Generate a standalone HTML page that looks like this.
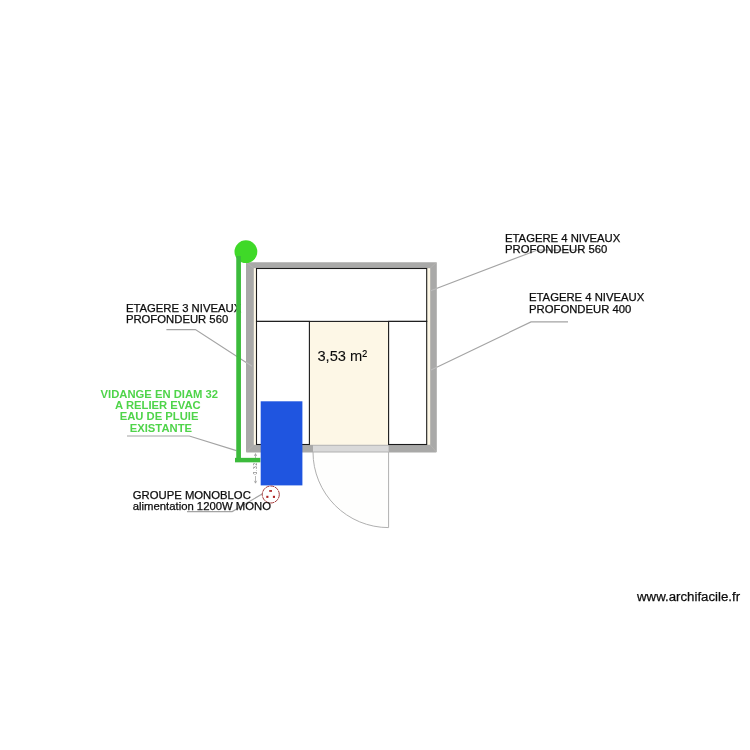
<!DOCTYPE html>
<html lang="fr">
<head>
<meta charset="utf-8">
<title>Plan chambre froide</title>
<style>
html,body{margin:0;padding:0;background:#fff;}
body{width:750px;height:750px;overflow:hidden;}
svg{display:block;will-change:transform;font-family:"Liberation Sans",Arial,sans-serif;}
.lbl{font-size:11.3px;fill:#0c0c0c;stroke:#0c0c0c;stroke-width:0.25px;}
.grn{font-size:11.25px;font-weight:bold;fill:#4fd44a;text-anchor:middle;}
.lead{fill:none;stroke:#a4a4a4;stroke-width:1.15;}
.miter{stroke:#bab8b5;stroke-width:0.6;fill:none;}
</style>
</head>
<body>
<svg width="750" height="750" viewBox="0 0 750 750">
<rect width="750" height="750" fill="#fff"/>

<!-- room -->
<rect x="246" y="262.2" width="190.8" height="190.2" rx="0.8" fill="#a9a9a8"/>
<rect x="253.8" y="268.2" width="176.4" height="176.6" fill="#fdf7e6"/>
<line class="miter" x1="246.3" y1="262.5" x2="253.8" y2="268.2"/>
<line class="miter" x1="436.5" y1="262.5" x2="430.2" y2="268.2"/>
<line class="miter" x1="246.3" y1="452.1" x2="253.8" y2="444.8"/>
<line class="miter" x1="436.5" y1="452.1" x2="430.2" y2="444.8"/>
<!-- shelves -->
<rect x="256.5" y="268.5" width="170.2" height="52.9" fill="#fff" stroke="#1a1a1a" stroke-width="1.1"/>
<rect x="256.5" y="321.4" width="52.9" height="123.1" fill="#fff" stroke="#1a1a1a" stroke-width="1.1"/>
<rect x="388.6" y="321.4" width="38.1" height="123.1" fill="#fff" stroke="#1a1a1a" stroke-width="1.1"/>

<!-- door -->
<rect x="313" y="445.6" width="75.6" height="6.6" fill="#d9d9d9"/>
<path d="M313,452 A75.6,75.6 0 0 0 388.6,527.6 L388.6,452 Z" fill="#fefefd" stroke="#b0b0b0" stroke-width="1"/>

<!-- leaders -->
<polyline class="lead" points="584,250 537.4,250 430.5,290.8"/>
<polyline class="lead" points="568,321.9 531,321.9 430.5,370.3"/>
<polyline class="lead" points="166.4,329.6 195.4,329.6 252,366.2"/>
<polyline class="lead" points="127,436 189.3,436 236.4,450.6"/>
<polyline class="lead" points="187,511.6 232.2,511.6 263,493.5"/>

<g stroke="#bdbdbd" stroke-width="1.1" fill="none">
<line x1="436.8" y1="288.4" x2="430.5" y2="290.8"/>
<line x1="436.8" y1="367.3" x2="430.5" y2="370.3"/>
<line x1="246" y1="362.3" x2="252" y2="366.2"/>
</g>
<text class="lbl" x="125.9" y="311.6">ETAGERE 3 NIVEAUX</text>
<text class="lbl" x="125.9" y="322.6">PROFONDEUR 560</text>

<!-- dimension -->
<g stroke="#9a9a9a" stroke-width="0.7" fill="none">
<line x1="255.5" y1="453.8" x2="255.5" y2="461"/>
<line x1="255.5" y1="476" x2="255.5" y2="483"/>
<polyline points="254.3,456 255.5,453.6 256.7,456"/>
<polyline points="254.3,480.8 255.5,483.2 256.7,480.8"/>
</g>
<text transform="translate(257.1,474.4) rotate(-90)" font-size="4.8" textLength="11.6" fill="#666">0.32</text>

<!-- green pipe -->
<circle cx="245.9" cy="251.7" r="11.4" fill="#3fd928"/>
<line x1="238.6" y1="256" x2="238.6" y2="460" stroke="#3cbb3c" stroke-width="4.7"/>
<line x1="235" y1="460.1" x2="260.4" y2="460.1" stroke="#3cbb3c" stroke-width="4.5"/>


<!-- blue unit -->
<rect x="260.7" y="401.3" width="41.7" height="84.1" fill="#1f55e0"/>

<!-- socket -->
<circle cx="270.8" cy="494.5" r="8.5" fill="#fff" stroke="#941a1a" stroke-width="0.85" stroke-dasharray="4.2 0.7"/>
<rect x="269.2" y="490.1" width="2.8" height="1.7" fill="#ae2222"/>
<rect x="266.3" y="495.8" width="2.1" height="2.1" fill="#ae2222"/>
<rect x="272.9" y="495.8" width="2.1" height="2.1" fill="#ae2222"/>

<!-- labels -->
<text class="lbl" x="505" y="241.6">ETAGERE 4 NIVEAUX</text>
<text class="lbl" x="505" y="252.6">PROFONDEUR 560</text>
<text class="lbl" x="529" y="300.6">ETAGERE 4 NIVEAUX</text>
<text class="lbl" x="529" y="312.6">PROFONDEUR 400</text>
<text class="grn" x="159.3" y="397.6">VIDANGE EN DIAM 32</text>
<text class="grn" x="157.9" y="408.6">A RELIER EVAC</text>
<text class="grn" x="159.1" y="419.6">EAU DE PLUIE</text>
<text class="grn" x="160.9" y="431.6">EXISTANTE</text>
<text class="lbl" x="132.8" y="498.5">GROUPE MONOBLOC</text>
<text class="lbl" x="132.8" y="509.6">alimentation 1200W MONO</text>
<text x="317.4" y="360.6" font-size="15.2" textLength="49.8" lengthAdjust="spacingAndGlyphs" fill="#0c0c0c" stroke="#0c0c0c" stroke-width="0.08">3,53 m²</text>
<text x="637" y="601.2" font-size="13.25" fill="#0c0c0c" stroke="#0c0c0c" stroke-width="0.25">www.archifacile.fr</text>
</svg>
</body>
</html>
